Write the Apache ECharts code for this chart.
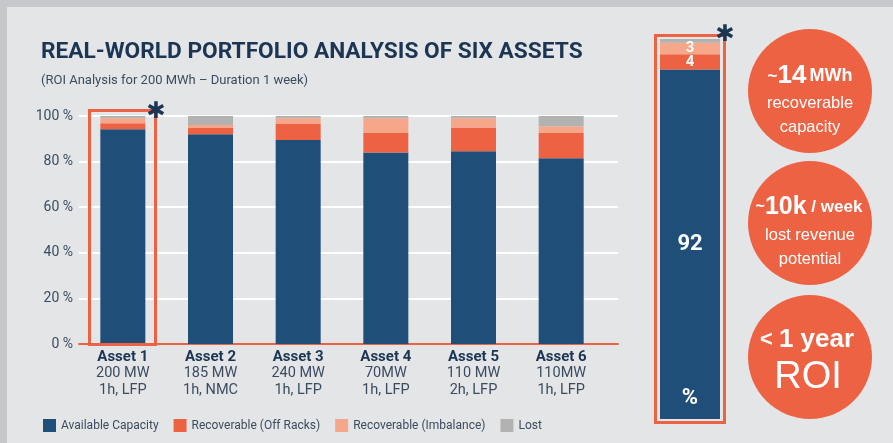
<!DOCTYPE html>
<html>
<head>
<meta charset="utf-8">
<script src="https://cdn.jsdelivr.net/npm/echarts@6/dist/echarts.min.js"></script>
<style>
  html, body { margin: 0; padding: 0; background: #c6c8cb; }
  #main { width: 893px; height: 443px; }
</style>
</head>
<body>
<div id="main"></div>
<script>
// data
const assets = ['Asset 1', 'Asset 2', 'Asset 3', 'Asset 4', 'Asset 5', 'Asset 6'];
const ratings = ['200 MW', '185 MW', '240 MW', '70MW', '110 MW', '110MW'];
const configs = ['1h, LFP', '1h, NMC', '1h, LFP', '1h, LFP', '2h, LFP', '1h, LFP'];
const available = [94.2, 92, 89.5, 84, 84.5, 81.5];
const offRacks = [2.6, 3, 7, 8.5, 10.5, 11];
const imbalance = [2.2, 1, 2.5, 6.5, 4, 3];
const lost = [1, 4, 1, 1, 1, 4.5];
// summary column (Asset 1 highlighted)
const summary = [92, 4, 3, 1];
const seriesNames = ['Available Capacity', 'Recoverable (Off Racks)', 'Recoverable (Imbalance)', 'Lost'];
const yTicks = [0, 20, 40, 60, 80, 100];

const colors = ['#1f4e79', '#ee6244', '#f6a78a', '#b2b2b2'];
const navy = '#1b3553';
const textGray = '#3b4c60';
const font = 'Roboto';

let myChart = echarts.init(document.getElementById('main'));

const mainData = [available, offRacks, imbalance, lost];

let series = [];
// main stacked bars
mainData.forEach((d, i) => {
  series.push({
    name: seriesNames[i],
    type: 'bar',
    stack: 'main',
    xAxisIndex: 0,
    yAxisIndex: 0,
    barWidth: 45,
    itemStyle: { color: colors[i] },
    data: d
  });
});
// summary column
summary.forEach((v, i) => {
  series.push({
    name: seriesNames[i],
    type: 'bar',
    stack: 'sum',
    xAxisIndex: 2,
    yAxisIndex: 2,
    barWidth: 60,
    itemStyle: { color: colors[i] },
    label: {
      show: i < 3,
      position: 'inside',
      color: '#ffffff',
      fontFamily: font,
      fontWeight: 'bold',
      fontSize: i == 0 ? 22 : 15
    },
    data: [v]
  });
});

function circle(cy, children) {
  return {
    type: 'group',
    children: [{
      type: 'circle',
      shape: { cx: 810, cy: cy, r: 62 },
      style: { fill: '#ee6244' }
    }].concat(children)
  };
}

function txt(x, y, rich, text) {
  return {
    type: 'text',
    x: x, y: y,
    style: {
      text: text,
      rich: rich,
      fill: '#fff',
      align: 'center',
      verticalAlign: 'middle',
      fontFamily: font
    }
  };
}

let option = {
  backgroundColor: '#c6c8cb',
  textStyle: { fontFamily: font },
  title: [
    {
      text: 'REAL-WORLD PORTFOLIO ANALYSIS OF SIX ASSETS',
      left: 36, top: 36,
      textStyle: { color: navy, fontSize: 22.7, fontWeight: 'bold', fontFamily: font }
    },
    {
      text: '(ROI Analysis for 200 MWh \u2013 Duration 1 week)',
      left: 36, top: 69,
      textStyle: { color: textGray, fontSize: 13, fontWeight: 'normal', fontFamily: font }
    }
  ],
  legend: {
    data: seriesNames,
    left: 38, top: 414,
    itemWidth: 13, itemHeight: 13,
    itemGap: 15,
    icon: 'rect',
    textStyle: { color: textGray, fontSize: 12, fontFamily: font }
  },
  grid: [
    { left: 79, width: 526, top: 116, height: 228 },
    { left: 79, width: 539, top: 116, height: 228 },
    { left: 660, width: 60, top: 39, height: 380 }
  ],
  xAxis: [
    {
      gridIndex: 0,
      type: 'category',
      data: assets,
      axisLine: { show: false },
      axisTick: { show: false },
      axisLabel: {
        margin: 5,
        interval: 0,
        formatter: (v, i) => '{b|' + v + '}\n{n|' + ratings[i] + '}\n{n|' + configs[i] + '}',
        rich: {
          b: { fontSize: 15, fontWeight: 'bold', color: navy, lineHeight: 16.5, fontFamily: font },
          n: { fontSize: 14.5, color: textGray, lineHeight: 16.5, fontFamily: font }
        }
      }
    },
    {
      gridIndex: 1,
      type: 'value',
      min: 0, max: 1,
      axisLine: { show: true, lineStyle: { color: '#ee6244', width: 2 } },
      axisTick: { show: false },
      axisLabel: { show: false },
      splitLine: { show: false }
    },
    {
      gridIndex: 2,
      type: 'category',
      data: ['Summary'],
      show: false
    }
  ],
  yAxis: [
    {
      gridIndex: 0,
      type: 'value',
      min: 0, max: 100,
      show: false
    },
    {
      gridIndex: 1,
      type: 'value',
      min: yTicks[0], max: yTicks[yTicks.length - 1],
      interval: 20,
      axisLine: { show: false },
      axisTick: { show: false },
      axisLabel: {
        margin: 6,
        formatter: '{value} %',
        color: textGray,
        fontSize: 14,
        fontFamily: font
      },
      splitLine: { show: true, lineStyle: { color: '#ffffff', width: 2 } }
    },
    {
      gridIndex: 2,
      type: 'value',
      min: 0, max: 100,
      show: false
    }
  ],
  graphic: [
    // inner panel
    {
      type: 'rect', z: -10, silent: true,
      shape: { x: 7, y: 7, width: 886, height: 436 },
      style: { fill: '#e4e5e7' }
    },
    // highlight box round Asset 1
    {
      type: 'rect', z: 10,
      shape: { x: 89.5, y: 110.5, width: 66, height: 234 },
      style: { fill: null, stroke: '#ee6244', lineWidth: 3 }
    },
    {
      type: 'text', z: 11, x: 156, y: 112,
      style: { text: '\u2731', fill: navy, fontSize: 23, fontFamily: 'DejaVu Sans', align: 'center', verticalAlign: 'middle' }
    },
    // box round summary column
    {
      type: 'rect', z: 10,
      shape: { x: 655.5, y: 35.5, width: 69, height: 387 },
      style: { fill: null, stroke: '#ee6244', lineWidth: 3 }
    },
    {
      type: 'text', z: 11, x: 725, y: 35,
      style: { text: '\u2731', fill: navy, fontSize: 23, fontFamily: 'DejaVu Sans', align: 'center', verticalAlign: 'middle' }
    },
    {
      type: 'text', z: 11, x: 690, y: 398,
      style: { text: '%', fill: '#fff', fontSize: 22, fontWeight: 'bold', fontFamily: font, align: 'center', verticalAlign: 'middle' }
    },
    // callout circles
    circle(91, [
      txt(810, 76, { a: { fontSize: 17, fontWeight: 'bold', fill: '#fff' }, b: { fontSize: 26, fontWeight: 'bold', fill: '#fff' }, c: { fontSize: 18, fontWeight: 'bold', fill: '#fff' } }, '{a|~}{b|14} {c|MWh}'),
      txt(810, 103, { r: { fontSize: 16.5, fill: '#fff' } }, '{r|recoverable}'),
      txt(810, 127, { r: { fontSize: 16.5, fill: '#fff' } }, '{r|capacity}')
    ]),
    circle(223, [
      txt(809, 207, { a: { fontSize: 16, fontWeight: 'bold', fill: '#fff' }, b: { fontSize: 25, fontWeight: 'bold', fill: '#fff' }, c: { fontSize: 17, fontWeight: 'bold', fill: '#fff' } }, '{a|~}{b|10k}{c| / week}'),
      txt(810, 235, { r: { fontSize: 16.5, fill: '#fff' } }, '{r|lost revenue}'),
      txt(810, 259, { r: { fontSize: 16.5, fill: '#fff' } }, '{r|potential}')
    ]),
    circle(357, [
      txt(807, 340, { a: { fontSize: 22, fontWeight: 'bold', fill: '#fff' }, b: { fontSize: 26, fontWeight: 'bold', fill: '#fff' } }, '{a|< }{b|1 year}'),
      txt(808, 378, { r: { fontSize: 38, fill: '#fff' } }, '{r|ROI}')
    ])
  ],
  series: series
};

myChart.setOption(option);
</script>
</body>
</html>
